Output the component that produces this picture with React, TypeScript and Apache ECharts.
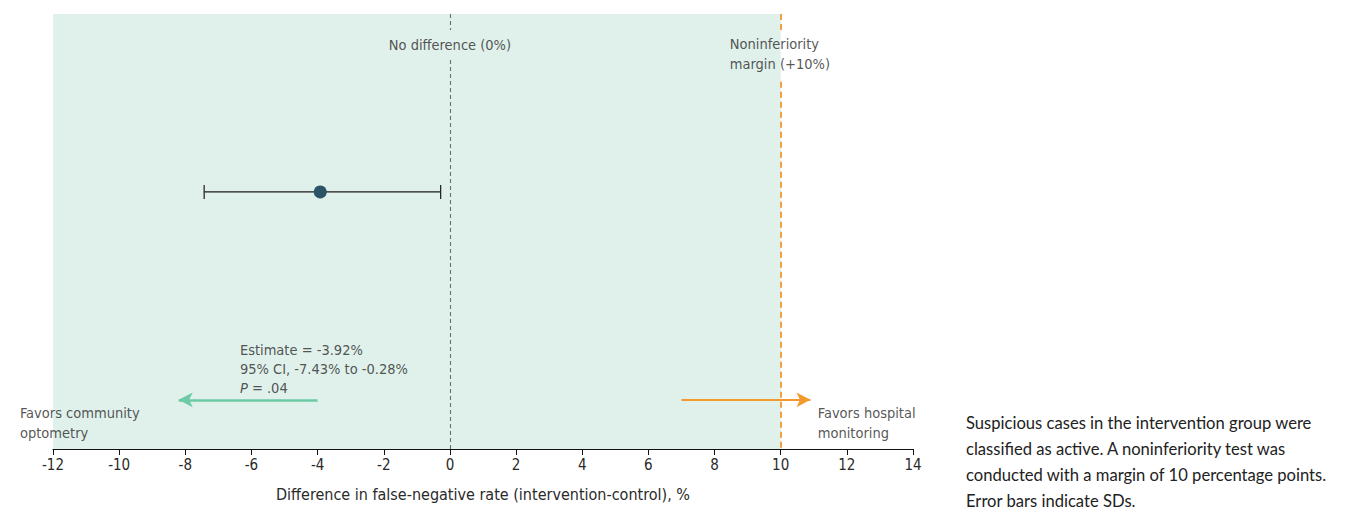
import React, { useEffect, useRef } from "react";
import * as echarts from "echarts";

const xTicks = [-12, -10, -8, -6, -4, -2, 0, 2, 4, 6, 8, 10, 12, 14];
const estimate = -3.92;
const ciLower = -7.43;
const ciUpper = -0.28;
const rowY = 0.591;
const noDiff = 0;
const margin = 10;
const shadeRange = [-12, 10];
const favorsLeftArrow = [-4, -8.2];
const favorsRightArrow = [7, 10.9];
const arrowY = 0.113;
const statLines = ["Estimate = -3.92%", "95% CI, -7.43% to -0.28%", "P = .04"];
const caption = [
  "Suspicious cases in the intervention group were",
  "classified as active. A noninferiority test was",
  "conducted with a margin of 10 percentage points.",
  "Error bars indicate SDs.",
];

const FONT = "'DejaVu Sans Condensed', sans-serif";
const TXT = "#2a2a2a";
const FS = 14.5;

export default function App() {
  const ref = useRef<HTMLDivElement>(null);
  useEffect(() => {
    const chart = echarts.init(ref.current!, null, { renderer: "svg" });
    const dashed = (color: string, width: number, pat: number[]) => ({ color, type: pat as any, width });
    const option: any = {
      animation: false,
      textStyle: { fontFamily: FONT },
      grid: { left: 53, right: 441, top: 14, bottom: 62 },
      xAxis: {
        type: "value",
        min: xTicks[0],
        max: xTicks[xTicks.length - 1],
        interval: 2,
        splitLine: { show: false },
        axisLine: { lineStyle: { color: "#111", width: 1.2 } },
        axisTick: { length: 6, lineStyle: { color: "#111" } },
        axisLabel: { fontSize: 15, color: TXT, fontFamily: FONT, margin: 8 },
        name: "Difference in false-negative rate (intervention-control), %",
        nameLocation: "middle",
        nameGap: 37,
        nameTextStyle: { fontSize: 16, color: TXT, fontFamily: FONT },
      },
      yAxis: { type: "value", min: 0, max: 1, show: false },
      series: [
        {
          type: "line",
          data: [],
          markArea: {
            silent: true,
            itemStyle: { color: "#e0f0eb" },
            data: [[{ coord: [shadeRange[0], 0] }, { coord: [shadeRange[1], 1] }]],
          },
          markLine: {
            silent: true,
            symbol: ["none", "none"],
            label: { show: false },
            data: [
              [{ coord: [noDiff, 1], lineStyle: dashed("#6e6e6e", 1.1, [4, 3]) }, { coord: [noDiff, 0.963] }],
              [{ coord: [noDiff, 0.894], lineStyle: dashed("#6e6e6e", 1.1, [4, 3]) }, { coord: [noDiff, 0] }],
              [{ coord: [margin, 1], lineStyle: dashed("#f4a03c", 2, [6, 4]) }, { coord: [margin, 0.959] }],
              [{ coord: [margin, 0.844], lineStyle: dashed("#f4a03c", 2, [6, 4]) }, { coord: [margin, 0] }],
            ],
          },
        },
        {
          type: "line",
          data: [],
          markLine: {
            silent: true,
            symbol: ["none", "arrow"],
            symbolSize: [11, 14],
            label: { show: false },
            data: [
              [
                { coord: [favorsLeftArrow[0], arrowY], lineStyle: { color: "#6ccaa6", width: 2.5, type: "solid" }, itemStyle: { color: "#6ccaa6" } },
                { coord: [favorsLeftArrow[1], arrowY] },
              ],
              [
                { coord: [favorsRightArrow[0], arrowY], lineStyle: { color: "#f39a2e", width: 2, type: "solid" }, itemStyle: { color: "#f39a2e" } },
                { coord: [favorsRightArrow[1], arrowY] },
              ],
            ],
          },
        },
        {
          type: "custom",
          data: [[estimate, ciLower, ciUpper, rowY]],
          renderItem: (params: any, api: any) => {
            const lo = api.coord([api.value(1), api.value(3)]);
            const hi = api.coord([api.value(2), api.value(3)]);
            const h = 7;
            const st = { stroke: "#1a1a1a", lineWidth: 1.2 };
            return {
              type: "group",
              children: [
                { type: "line", shape: { x1: lo[0], y1: lo[1], x2: hi[0], y2: hi[1] }, style: st },
                { type: "line", shape: { x1: lo[0], y1: lo[1] - h, x2: lo[0], y2: lo[1] + h }, style: st },
                { type: "line", shape: { x1: hi[0], y1: hi[1] - h, x2: hi[0], y2: hi[1] + h }, style: st },
              ],
            };
          },
          z: 3,
        },
        {
          type: "scatter",
          data: [[estimate, rowY]],
          symbolSize: 13,
          itemStyle: { color: "#2b5566", opacity: 1 },
          z: 4,
        },
        {
          type: "scatter",
          symbolSize: 0,
          silent: true,
          clip: false,
          z: 5,
          data: [
            {
              value: [noDiff, 0.929],
              label: { show: true, position: "inside", formatter: "No difference (0%)", fontSize: FS, color: TXT, fontFamily: FONT },
            },
            {
              value: [8.46, 0.955],
              label: {
                show: true, position: "right", distance: 0, align: "left", verticalAlign: "top",
                formatter: "Noninferiority\nmargin (+10%)", fontSize: FS, lineHeight: 20, color: TXT, fontFamily: FONT,
              },
            },
            {
              value: [-6.35, 0.25],
              label: {
                show: true, position: "right", distance: 0, align: "left", verticalAlign: "top",
                formatter: `${statLines[0]}\n${statLines[1]}\n{i|P} = .04`,
                fontSize: FS, lineHeight: 19, color: TXT, fontFamily: FONT,
                rich: { i: { fontStyle: "italic", fontSize: FS, color: TXT, fontFamily: FONT } },
              },
            },
            {
              value: [-13.0, 0.105],
              label: {
                show: true, position: "right", distance: 0, align: "left", verticalAlign: "top",
                formatter: "Favors community\noptometry", fontSize: FS, lineHeight: 20, color: TXT, fontFamily: FONT,
              },
            },
            {
              value: [11.12, 0.105],
              label: {
                show: true, position: "right", distance: 0, align: "left", verticalAlign: "top",
                formatter: "Favors hospital\nmonitoring", fontSize: FS, lineHeight: 20, color: TXT, fontFamily: FONT,
              },
            },
          ],
        },
      ],
      graphic: [
        {
          type: "text",
          left: 966,
          top: 410,
          style: {
            text: caption.join("\n"),
            font: "400 16.6px Lato, 'Open Sans', sans-serif",
            lineHeight: 26,
            fill: "#222",
          },
        },
      ],
    };
    chart.setOption(option);
    return () => chart.dispose();
  }, []);
  return <div ref={ref} style={{ position: "fixed", left: 0, top: 0, width: 1354, height: 511, background: "#fff" }} />;
}
